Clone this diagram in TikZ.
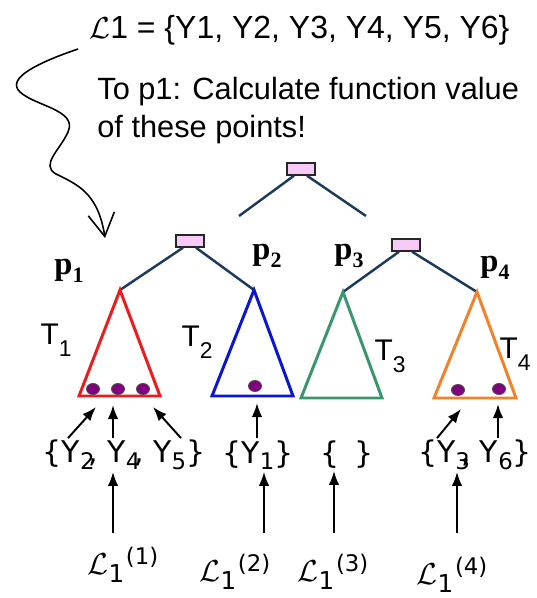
\documentclass[tikz,border=0pt]{standalone}
\usepackage{fontspec}
\setmainfont{Liberation Sans}
\newfontfamily\pfont{Liberation Serif}
\newfontfamily\setfont{DejaVu Sans}
\usetikzlibrary{calc, positioning, arrows.meta, shapes.geometric}

\definecolor{treeline}{RGB}{28,58,92}
\definecolor{boxpink}{RGB}{246,202,246}
\definecolor{tred}{RGB}{236,28,30}
\definecolor{tblue}{RGB}{12,20,214}
\definecolor{tgreen}{RGB}{58,150,108}
\definecolor{torange}{RGB}{242,130,42}
\definecolor{dotpurple}{RGB}{128,0,128}

% label macros
\newcommand{\tlab}[1]{T\raisebox{-0.4em}{\fontsize{13}{13}\selectfont #1}}
\newcommand{\plab}[1]{{\pfont\bfseries p\raisebox{-0.25em}{\fontsize{12.5}{12.5}\selectfont #1}}}
\newcommand{\ysub}[1]{Y\raisebox{-0.22em}{\fontsize{13}{13}\selectfont #1}}
\newcommand{\lsub}[1]{{\fontsize{18}{20}\selectfont$\mathcal{L}$}\raisebox{-4.5pt}{\fontsize{14}{14}\selectfont 1}\kern1pt\raisebox{5.5pt}{\fontsize{13}{13}\selectfont (#1)}}

\begin{document}
\begin{tikzpicture}[x=0.02cm, y=-0.02cm,
        splitbox/.style={draw=black!85, fill=boxpink, minimum width=0.56cm, minimum height=0.24cm, inner sep=0pt, line width=0.8pt},
        edge/.style={draw=treeline, line width=1.4pt},
        tri/.style={line width=1.7pt, line join=miter},
        dot/.style={ellipse, draw=black!70, fill=dotpurple, minimum width=0.26cm, minimum height=0.22cm, inner sep=0pt, line width=0.5pt},
        arr/.style={-{Latex[length=8pt, width=6pt]}, line width=1.1pt},
        setlab/.style={font=\setfont\fontsize{17}{20}\selectfont, inner sep=1pt},
        tlabel/.style={font=\fontsize{17}{20}\selectfont, inner sep=0pt},
        plabel/.style={font=\fontsize{18.5}{20}\selectfont, inner sep=0pt}
    ]
        \useasboundingbox (0,0) rectangle (537,598);

        % Header texts
        \node[anchor=west, inner sep=0pt, font=\fontsize{18.2}{21}\selectfont] (title) at (89,30) {$\mathcal{L}$1 = \{Y1, Y2, Y3, Y4, Y5, Y6\}};
        \node[anchor=north west, inner sep=0pt, align=left, font=\fontsize{17.5}{21.6}\selectfont] (note) at (97,77) {To p1: Calculate function value\\of these points!};

        % Wavy pointer down to p1
        \draw[line width=0.9pt, -{Straight Barb[length=13pt, width=15pt]}] (78,49) .. controls (40,62) and (5,78) .. (20,92) .. controls (35,106) and (78,110) .. (68,132) .. controls (60,150) and (40,165) .. (56,174) .. controls (76,184) and (98,192) .. (105,238);

        % Split boxes
        \node[splitbox] (root) at (301,169) {};
        \node[splitbox] (boxL) at (190,241) {};
        \node[splitbox] (boxR) at (406,245) {};

        % Triangle corners
        \coordinate (t1) at (120,290);
        \coordinate (t1l) at (79,396);
        \coordinate (t1r) at (160,396);
        \coordinate (t2) at (254,290);
        \coordinate (t2l) at (212,396);
        \coordinate (t2r) at (293,396);
        \coordinate (t3) at (343,292);
        \coordinate (t3l) at (301,398);
        \coordinate (t3r) at (382,398);
        \coordinate (t4) at (477,292);
        \coordinate (t4l) at (434,398);
        \coordinate (t4r) at (516,398);

        % Tree edges
        \coordinate (rootL) at (239,216);
        \coordinate (rootR) at (366,216);
        \draw[edge] ($(root.south)+(-7,0)$) -- (rootL);
        \draw[edge] ($(root.south)+(6,0)$) -- (rootR);
        \draw[edge] ($(boxL.south)+(-7,0)$) -- (t1);
        \draw[edge] ($(boxL.south)+(6,0)$) -- (t2);
        \draw[edge] ($(boxR.south)+(-7,0)$) -- (t3);
        \draw[edge] ($(boxR.south)+(6,0)$) -- (t4);

        % Triangles
        \draw[tri, tred] (t1) -- (t1l) -- (t1r) -- cycle;
        \draw[tri, tblue] (t2) -- (t2l) -- (t2r) -- cycle;
        \draw[tri, tgreen] (t3) -- (t3l) -- (t3r) -- cycle;
        \draw[tri, torange] (t4) -- (t4l) -- (t4r) -- cycle;

        % Points in the leaves
        \node[dot] (y2dot) at (93,389) {};
        \node[dot] (y4dot) at (118,389) {};
        \node[dot] (y5dot) at (143,389) {};
        \node[dot] (y1dot) at (255,386) {};
        \node[dot] (y3dot) at (458,390) {};
        \node[dot] (y6dot) at (499,389) {};

        % Labels
        \node[plabel] (p1) at (69,271) {\plab{1}};
        \node[plabel] (p2) at (267,256) {\plab{2}};
        \node[plabel] (p3) at (349,256) {\plab{3}};
        \node[plabel] (p4) at (495,268) {\plab{4}};
        \node[tlabel] (T1) at (56,340) {\tlab{1}};
        \node[tlabel] (T2) at (197,342) {\tlab{2}};
        \node[tlabel] (T3) at (390,356) {\tlab{3}};
        \node[tlabel] (T4) at (515,354) {\tlab{4}};

        % Point sets
        \node[setlab] (s1) at (124,455) {\{\ysub{2}\kern-0.2em, \ysub{4}\kern-0.2em, \ysub{5}\}};
        \node[setlab] (s2) at (258,455) {\{\ysub{1}\}};
        \node[setlab] (s3) at (347,455) {\{\,\ \}};
        \node[setlab] (s4) at (475,455) {\{\ysub{3}\kern-0.3em, \ysub{6}\}};

        % Subset labels
        \node[setlab] (l1) at (123,565) {\lsub{1}};
        \node[setlab] (l2) at (235,572) {\lsub{2}};
        \node[setlab] (l3) at (333,572) {\lsub{3}};
        \node[setlab] (l4) at (452,575) {\lsub{4}};

        % Arrows from the sets to the points
        \coordinate (a2) at (96,407);
        \coordinate (a4) at (113,405);
        \coordinate (a5) at (153,407);
        \coordinate (a1) at (257,403);
        \coordinate (a3) at (461,409);
        \coordinate (a6) at (498,404);
        \draw[arr] ($(a2 |- s1.north)+(-28,0)$) -- (a2);
        \draw[arr] (a4 |- s1.north) -- (a4);
        \draw[arr] ($(a5 |- s1.north)+(28,0)$) -- (a5);
        \draw[arr] (a1 |- s2.north) -- (a1);
        \draw[arr] ($(a3 |- s4.north)+(-24,0)$) -- (a3);
        \draw[arr] (a6 |- s4.north) -- (a6);

        % Arrows from the subset labels up to the sets
        \coordinate (u1) at (113,533);
        \coordinate (u2) at (264,533);
        \coordinate (u3) at (334,533);
        \coordinate (u4) at (457,533);
        \draw[arr] (u1) -- (u1 |- s1.south);
        \draw[arr] (u2) -- (u2 |- s2.south);
        \draw[arr] (u3) -- (u3 |- s3.south);
        \draw[arr] (u4) -- (u4 |- s4.south);

    \end{tikzpicture}
\end{document}
